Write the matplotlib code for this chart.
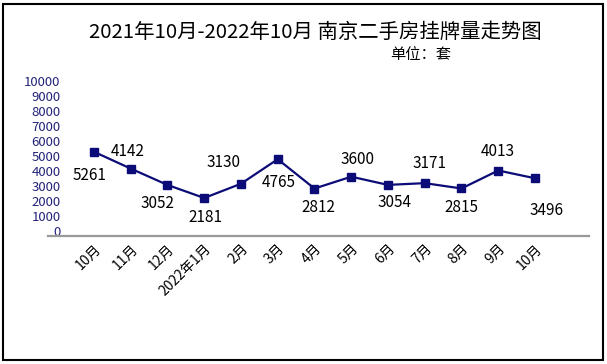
import matplotlib
matplotlib.use("Agg")
import matplotlib.pyplot as plt
from matplotlib.patches import Rectangle

plt.rcParams["font.family"] = ["Noto Sans CJK SC", "DejaVu Sans"]

# data
months = ["10月", "11月", "12月", "2022年1月", "2月", "3月", "4月",
          "5月", "6月", "7月", "8月", "9月", "10月"]
listings = [5261, 4142, 3052, 2181, 3130, 4765, 2812,
            3600, 3054, 3171, 2815, 4013, 3496]
y_ticks = list(range(0, 10001, 1000))

# label offsets in pixels (dx, dy), positive dy = up
label_offsets = [(-4, -24), (-3, 17), (-10, -19), (1, -20), (-17, 21), (1, -23),
                 (4, -19), (6, 17), (7, -18), (5, 20), (0, -19), (0, 19), (12, -32)]

W, H = 607, 364
fig = plt.figure(figsize=(W / 100, H / 100), dpi=100)
ax = fig.add_axes([48 / W, 1 - 236 / H, (589 - 48) / W, (236 - 80.7) / H])

navy = "#0c0c78"
x = list(range(len(months)))
ax.plot(x, listings, color=navy, lw=1.6, marker="s", ms=6, mec=navy, mfc=navy)

for xi, v, (dx, dy) in zip(x, listings, label_offsets):
    ax.annotate(str(v), (xi, v), xytext=(dx * 0.72, dy * 0.72), textcoords="offset points",
                ha="center", va="center", fontsize=11, color="black")

ax.set_xlim(-1.25, 13.47)
ax.set_ylim(-353, 10000)
ax.set_yticks(y_ticks)
ax.set_yticklabels([str(t) for t in y_ticks])
ax.set_xticks(x)
ax.set_xticklabels(months, rotation=45, ha="right", rotation_mode="anchor")

ax.tick_params(axis="y", length=0, pad=-9, labelsize=9.5, labelcolor="#23237a")
ax.tick_params(axis="x", length=0, pad=4, labelsize=10)

for s in ["top", "right", "left"]:
    ax.spines[s].set_visible(False)
ax.spines["bottom"].set_color("#999999")
ax.spines["bottom"].set_linewidth(1.6)
ax.set_facecolor("none")

fig.text(315 / W, 1 - 32 / H, "2021年10月-2022年10月 南京二手房挂牌量走势图",
         ha="center", va="center", fontsize=14.7, color="black", weight="medium")
fig.text(421 / W, 1 - 55 / H, "单位：套", ha="center", va="center", fontsize=11,
         color="black")

fig.add_artist(Rectangle((3 / W, 4 / H), 600 / W, 356 / H, transform=fig.transFigure,
                         fill=False, edgecolor="black", lw=1.5))

fig.savefig("out.png", dpi=100)
